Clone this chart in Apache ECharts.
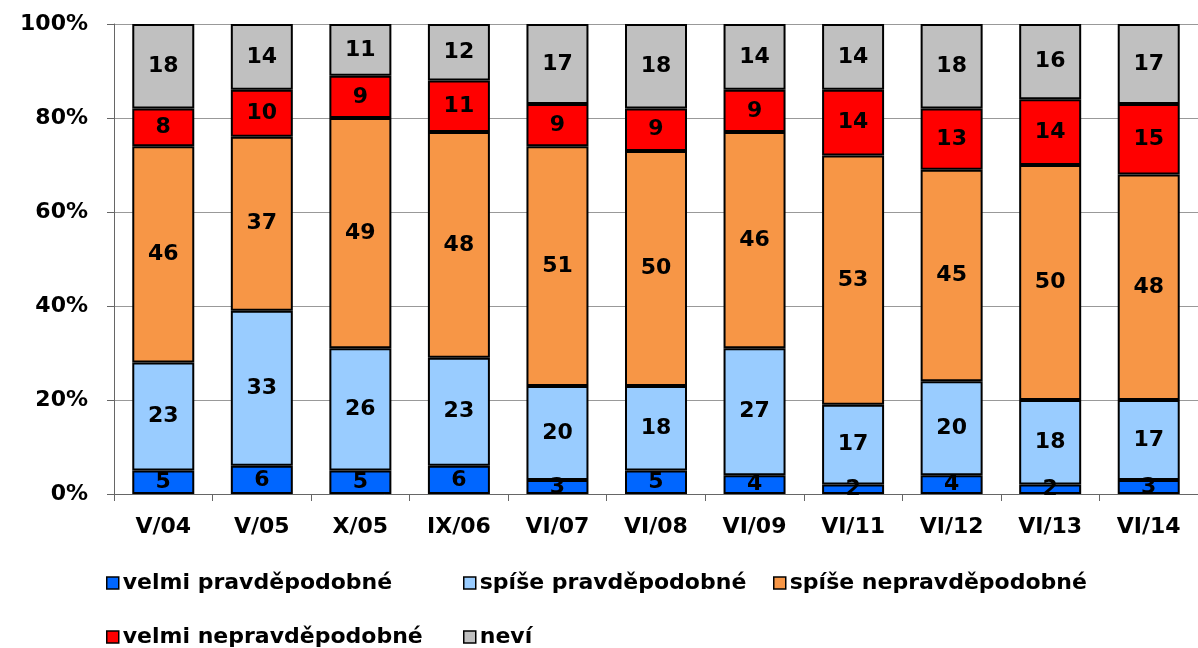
<!DOCTYPE html>
<html><head><meta charset="utf-8">
<script src="https://cdn.jsdelivr.net/npm/echarts@6/dist/echarts.min.js"></script>
<style>html,body{margin:0;padding:0;background:#fff}#c{width:1198px;height:648px}</style>
</head><body><div id="c"></div>
<script>
const categories = ['V/04','V/05','X/05','IX/06','VI/07','VI/08','VI/09','VI/11','VI/12','VI/13','VI/14'];
const seriesNames = ['velmi pravděpodobné','spíše pravděpodobné','spíše nepravděpodobné','velmi nepravděpodobné','neví'];
const velmiPravd   = [5, 6, 5, 6, 3, 5, 4, 2, 4, 2, 3];
const spisePravd   = [23, 33, 26, 23, 20, 18, 27, 17, 20, 18, 17];
const spiseNepravd = [46, 37, 49, 48, 51, 50, 46, 53, 45, 50, 48];
const velmiNepravd = [8, 10, 9, 11, 9, 9, 9, 14, 13, 14, 15];
const nevi         = [18, 14, 11, 12, 17, 18, 14, 14, 18, 16, 17];
const yTicks = [0, 20, 40, 60, 80, 100];

const values = [velmiPravd, spisePravd, spiseNepravd, velmiNepravd, nevi];
const colors = ['#0066FF', '#99CCFF', '#F79646', '#FF0000', '#C0C0C0'];
const font = 'DejaVu Sans';

const chart = echarts.init(document.getElementById('c'));
const legendPos = [[101, 567], [458, 567], [768, 567], [101, 621], [458, 621]];
chart.setOption({
  animation: false,
  grid: {left: 114, top: 24, width: 1094, height: 470, containLabel: false},
  legend: seriesNames.map((n, i) => ({
    data: [n], left: legendPos[i][0], top: legendPos[i][1],
    icon: 'rect', itemWidth: 12, itemHeight: 12, itemGap: 6,
    itemStyle: {borderColor: '#000', borderWidth: 1.5},
    textStyle: {fontFamily: font, fontWeight: 'bold', fontSize: 22, color: '#000', padding: [0,0,0,-1]}
  })),
  xAxis: {
    type: 'category', data: categories,
    axisLine: {lineStyle: {color: '#666', width: 1}},
    axisTick: {show: true, alignWithLabel: false, length: 7, lineStyle: {color: '#666'}},
    axisLabel: {fontFamily: font, fontWeight: 'bold', fontSize: 22, color: '#000', margin: 22, interval: 0}
  },
  yAxis: {
    type: 'value', min: 0, max: 100, interval: 20,
    axisLine: {show: true, lineStyle: {color: '#666', width: 1}},
    axisTick: {show: true, length: 7, lineStyle: {color: '#666'}},
    splitLine: {lineStyle: {color: '#999', width: 1}},
    axisLabel: {formatter: v => yTicks.includes(v) ? v + '%' : '', fontFamily: font, fontWeight: 'bold', fontSize: 22, color: '#000', margin: 26}
  },
  series: seriesNames.map((n, i) => ({
    name: n, type: 'bar', stack: 'all', barWidth: 62,
    data: values[i],
    itemStyle: {color: colors[i], borderColor: '#000', borderWidth: 2},
    label: {show: true, position: 'inside', fontFamily: font, fontWeight: 'bold', fontSize: 22, color: '#000'}
  }))
});
</script>
</body></html>
